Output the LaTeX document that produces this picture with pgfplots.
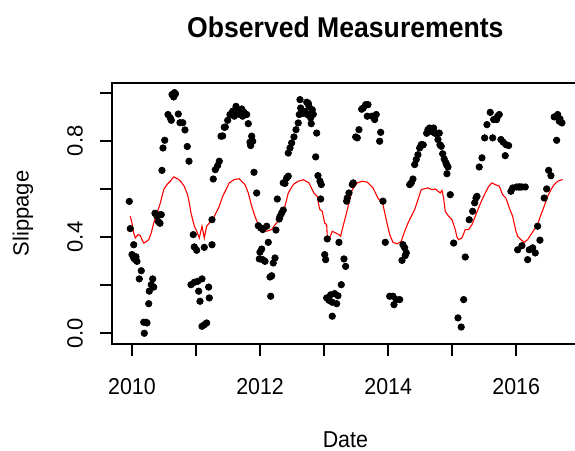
\documentclass[border=0pt]{standalone}
\usepackage{fontspec}
\setmainfont{Liberation Sans}[FakeStretch=0.93]
\newfontfamily\rotfont{Liberation Sans}
\usepackage{pgfplots}
\pgfplotsset{compat=1.18}

% observed slippage (decimal year, value)
\pgfplotstableread{
x y
2009.958 0.548
2009.973 0.435
2010.027 0.368
2010.000 0.327
2010.027 0.313
2010.052 0.306
2010.078 0.299
2010.062 0.318
2010.145 0.260
2010.114 0.226
2010.183 0.046
2010.219 0.046
2010.234 0.043
2010.192 0.000
2010.261 0.123
2010.270 0.175
2010.301 0.202
2010.323 0.226
2010.339 0.192
2010.359 0.499
2010.386 0.488
2010.411 0.464
2010.426 0.492
2010.437 0.457
2010.457 0.493
2010.468 0.677
2010.484 0.770
2010.511 0.802
2010.562 0.909
2010.598 0.895
2010.614 0.885
2010.625 0.992
2010.651 0.982
2010.664 1.000
2010.679 0.995
2010.723 0.911
2010.749 0.875
2010.792 0.875
2010.827 0.845
2010.863 0.776
2010.890 0.715
2010.921 0.202
2010.957 0.410
2010.973 0.359
2010.973 0.212
2011.010 0.345
2011.026 0.216
2011.041 0.175
2011.062 0.133
2011.093 0.226
2011.093 0.029
2011.132 0.036
2011.166 0.043
2011.129 0.357
2011.197 0.192
2011.207 0.147
2011.249 0.368
2011.249 0.472
2011.269 0.641
2011.301 0.680
2011.338 0.697
2011.363 0.715
2011.390 0.819
2011.416 0.820
2011.441 0.856
2011.457 0.857
2011.494 0.885
2011.530 0.909
2011.572 0.923
2011.597 0.902
2011.624 0.943
2011.655 0.925
2011.671 0.910
2011.713 0.932
2011.728 0.902
2011.749 0.918
2011.791 0.909
2011.816 0.871
2011.842 0.794
2011.853 0.780
2011.869 0.819
2011.885 0.798
2011.905 0.669
2011.947 0.583
2011.972 0.447
2012.009 0.438
2012.041 0.431
2012.103 0.445
2012.128 0.378
2012.025 0.350
2011.998 0.337
2011.988 0.309
2012.041 0.306
2012.077 0.299
2012.233 0.313
2012.206 0.292
2012.155 0.234
2012.181 0.239
2012.166 0.154
2012.248 0.429
2012.269 0.558
2012.311 0.486
2012.337 0.500
2012.300 0.475
2012.362 0.512
2012.362 0.625
2012.389 0.623
2012.415 0.645
2012.440 0.653
2012.440 0.749
2012.467 0.770
2012.493 0.791
2012.529 0.816
2012.561 0.846
2012.596 0.874
2012.612 0.909
2012.634 0.936
2012.623 0.971
2012.674 0.914
2012.701 0.921
2012.728 0.960
2012.753 0.956
2012.763 0.943
2012.737 0.909
2012.790 0.895
2012.806 0.920
2012.815 0.929
2012.799 0.871
2012.831 0.910
2012.884 0.832
2012.868 0.733
2012.904 0.655
2012.935 0.632
2012.956 0.618
2012.946 0.558
2013.049 0.392
2013.232 0.378
2013.009 0.327
2013.024 0.306
2013.310 0.309
2013.336 0.278
2013.268 0.202
2013.040 0.147
2013.102 0.160
2013.165 0.165
2013.216 0.156
2013.127 0.129
2013.196 0.123
2013.076 0.137
2013.127 0.071
2013.352 0.549
2013.361 0.562
2013.388 0.583
2013.440 0.618
2013.455 0.625
2013.493 0.816
2013.518 0.812
2013.544 0.846
2013.586 0.931
2013.611 0.936
2013.649 0.950
2013.674 0.902
2013.685 0.950
2013.747 0.902
2013.789 0.888
2013.814 0.909
2013.883 0.835
2013.867 0.798
2013.919 0.549
2013.955 0.378
2014.231 0.368
2014.258 0.355
2014.283 0.334
2014.267 0.323
2014.216 0.303
2014.024 0.154
2014.075 0.154
2014.127 0.140
2014.180 0.140
2014.091 0.119
2014.336 0.618
2014.361 0.625
2014.387 0.641
2014.414 0.701
2014.439 0.722
2014.465 0.742
2014.492 0.770
2014.517 0.784
2014.548 0.783
2014.601 0.831
2014.621 0.846
2014.648 0.853
2014.679 0.838
2014.710 0.853
2014.731 0.831
2014.746 0.832
2014.778 0.805
2014.798 0.832
2014.809 0.783
2014.829 0.777
2014.851 0.746
2014.876 0.724
2014.902 0.708
2014.913 0.700
2014.934 0.691
2014.918 0.663
2014.970 0.576
2015.023 0.375
2015.204 0.317
2015.179 0.140
2015.090 0.064
2015.141 0.026
2015.266 0.472
2015.319 0.507
2015.351 0.542
2015.371 0.562
2015.387 0.569
2015.422 0.691
2015.465 0.729
2015.507 0.812
2015.543 0.867
2015.594 0.918
2015.647 0.888
2015.632 0.812
2015.694 0.888
2015.710 0.902
2015.735 0.909
2015.761 0.805
2015.797 0.794
2015.839 0.784
2015.881 0.780
2015.828 0.738
2015.917 0.590
2015.944 0.604
2016.006 0.608
2016.042 0.608
2016.060 0.608
2016.089 0.608
2016.141 0.608
2016.022 0.347
2016.089 0.364
2016.203 0.347
2016.256 0.355
2016.297 0.334
2016.178 0.306
2016.334 0.445
2016.370 0.387
2016.437 0.562
2016.475 0.600
2016.506 0.677
2016.542 0.655
2016.631 0.802
2016.593 0.899
2016.647 0.909
2016.683 0.891
2016.714 0.874
2016.672 0.881
}\observed

% smoothed trend
\pgfplotstableread{
x y
2009.973 0.486
2010.000 0.458
2010.027 0.417
2010.052 0.396
2010.094 0.410
2010.130 0.406
2010.156 0.389
2010.183 0.375
2010.208 0.378
2010.261 0.389
2010.301 0.417
2010.339 0.458
2010.390 0.499
2010.442 0.541
2010.495 0.597
2010.546 0.618
2010.598 0.632
2010.651 0.650
2010.723 0.640
2010.765 0.630
2010.817 0.610
2010.869 0.575
2010.895 0.541
2010.921 0.500
2010.973 0.445
2011.010 0.424
2011.051 0.396
2011.093 0.445
2011.129 0.396
2011.166 0.445
2011.207 0.458
2011.260 0.472
2011.311 0.500
2011.363 0.528
2011.416 0.569
2011.468 0.597
2011.519 0.625
2011.597 0.639
2011.675 0.642
2011.764 0.618
2011.816 0.583
2011.869 0.528
2011.920 0.486
2011.972 0.451
2012.025 0.431
2012.103 0.424
2012.181 0.431
2012.233 0.451
2012.284 0.465
2012.337 0.493
2012.389 0.528
2012.440 0.583
2012.518 0.618
2012.596 0.632
2012.674 0.638
2012.763 0.625
2012.841 0.583
2012.893 0.569
2012.920 0.528
2012.935 0.514
2012.971 0.507
2012.998 0.472
2013.009 0.458
2013.040 0.451
2013.049 0.403
2013.076 0.389
2013.127 0.424
2013.180 0.417
2013.232 0.410
2013.258 0.403
2013.283 0.431
2013.336 0.486
2013.388 0.541
2013.440 0.597
2013.518 0.625
2013.596 0.632
2013.674 0.628
2013.763 0.604
2013.841 0.562
2013.919 0.535
2013.970 0.472
2014.024 0.410
2014.075 0.378
2014.142 0.372
2014.204 0.382
2014.258 0.424
2014.310 0.458
2014.361 0.486
2014.414 0.514
2014.465 0.555
2014.517 0.597
2014.621 0.604
2014.683 0.597
2014.735 0.600
2014.813 0.583
2014.840 0.594
2014.866 0.562
2014.891 0.507
2014.945 0.486
2014.996 0.472
2015.023 0.451
2015.048 0.431
2015.074 0.400
2015.101 0.389
2015.152 0.396
2015.204 0.431
2015.257 0.431
2015.308 0.451
2015.360 0.486
2015.413 0.521
2015.465 0.555
2015.516 0.583
2015.569 0.610
2015.621 0.625
2015.672 0.618
2015.735 0.611
2015.788 0.576
2015.839 0.562
2015.891 0.521
2015.944 0.486
2015.995 0.424
2016.022 0.403
2016.073 0.389
2016.125 0.378
2016.178 0.389
2016.230 0.410
2016.281 0.431
2016.334 0.452
2016.386 0.493
2016.437 0.528
2016.490 0.569
2016.542 0.597
2016.593 0.618
2016.647 0.632
2016.725 0.639
}\trend

\begin{document}
\begin{tikzpicture}
\begin{axis}[
  name=ax,
  scale only axis,
  width=233.65pt, height=130.5pt,
  xmin=2009.683, xmax=2016.98,
  ymin=-0.0445, ymax=1.040,
  axis line style={line width=0.9pt},
  tick style={line width=0.9pt, black},
  tick align=outside,
  tick pos=left,
  major tick length=6pt,
  xtick={2010,2011,2012,2013,2014,2015,2016},
  xticklabels={2010,,2012,,2014,,2016},
  ytick={0,0.2,0.4,0.6,0.8,1},
  yticklabels={0.0,,0.4,,0.8,},
  xticklabel style={font=\fontsize{11.5}{12}\selectfont, anchor=base},
  xticklabel shift=19pt,
  yticklabel style={font=\rotfont\fontsize{11}{12}\selectfont, rotate=90, anchor=base},
  yticklabel shift=8.6pt,
  title={Observed Measurements},
  title style={font=\fontsize{14.3}{15}\selectfont\bfseries,
    at={(axis description cs:0.5,1)}, anchor=base, yshift=16.85pt},
  xlabel={Date},
  xlabel style={font=\fontsize{11.5}{12}\selectfont,
    at={(axis description cs:0.5,0)}, anchor=base, yshift=-52pt},
  ylabel={Slippage},
  ylabel style={font=\rotfont\fontsize{11}{12}\selectfont,
    at={(axis description cs:-0.178,0.5)}, anchor=base},
]
\addplot[only marks, mark=*, mark size=1.6pt, black] table {\observed};
\addplot[red, line width=0.55pt] table {\trend};
\end{axis}
\pgfresetboundingbox
\path ([shift={(-55.85pt,-53.5pt)}]ax.south west) rectangle ([shift={(231.65pt,172pt)}]ax.south west);
\end{tikzpicture}
\end{document}
